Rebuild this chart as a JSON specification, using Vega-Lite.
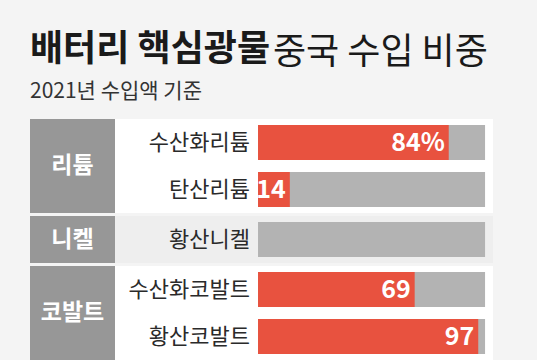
{
  "$schema": "https://vega.github.io/schema/vega-lite/v6.json",
  "background": "#f4f4f4",
  "padding": {"left": 30, "top": 32, "right": 44, "bottom": 0},
  "title": {
    "text": "중국 수입 비중",
    "anchor": "start",
    "dx": 243,
    "dy": 40,
    "offset": 0,
    "font": "Noto Sans CJK KR",
    "fontSize": 36,
    "fontWeight": "normal",
    "color": "#1a1a1a"
  },
  "data": {
    "values": [
      {"group": "리튬", "item": "수산화리튬", "value": 84, "label": "84%"},
      {"group": "리튬", "item": "탄산리튬", "value": 14, "label": "14"},
      {"group": "니켈", "item": "황산니켈", "value": null, "label": ""},
      {"group": "코발트", "item": "수산화코발트", "value": 69, "label": "69"},
      {"group": "코발트", "item": "황산코발트", "value": 97, "label": "97"}
    ]
  },
  "config": {
    "view": {"stroke": null},
    "concat": {"spacing": 0},
    "text": {"font": "Noto Sans CJK KR"}
  },
  "vconcat": [
    {
      "title": {
        "text": "배터리 핵심광물",
        "subtitle": "2021년 수입액 기준",
        "anchor": "start",
        "font": "Noto Sans CJK KR",
        "fontSize": 36,
        "fontWeight": "bold",
        "color": "#1a1a1a",
        "subtitleFont": "Noto Sans CJK KR",
        "subtitleFontSize": 21,
        "subtitleColor": "#333333",
        "subtitlePadding": 12,
        "offset": 16
      },
      "spacing": 3,
      "vconcat": [
        {
          "transform": [{"filter": "datum.group === '리튬'"}],
          "spacing": 0,
          "hconcat": [
            {
              "width": 85, "height": 94,
              "view": {"fill": "#979797", "stroke": null},
              "transform": [{"aggregate": [{"op": "count", "as": "n"}], "groupby": ["group"]}],
              "mark": {"type": "text", "fontSize": 23, "fontWeight": "bold", "color": "white"},
              "encoding": {"text": {"field": "group"}}
            },
            {
              "width": 378, "height": {"step": 47},
              "view": {"fill": "white", "stroke": null},
              "encoding": {"y": {"field": "item", "type": "nominal", "sort": null, "axis": null, "scale": {"paddingInner": 0.26, "paddingOuter": 0.13}}},
              "layer": [
                {"mark": {"type": "bar", "color": "#b3b3b3"},
                 "encoding": {"x": {"datum": 0, "type": "quantitative", "scale": {"domain": [-63, 103.5], "nice": false, "zero": false}, "axis": null}, "x2": {"datum": 100}}},
                {"transform": [{"filter": "isValid(datum.value)"}],
                 "mark": {"type": "bar", "color": "#e8523f"},
                 "encoding": {"x": {"field": "value", "type": "quantitative"}, "x2": {"datum": 0}}},
                {"mark": {"type": "text", "align": "right", "dx": -8, "fontSize": 22, "color": "#2a2a2a"},
                 "encoding": {"x": {"datum": 0, "type": "quantitative"}, "text": {"field": "item"}}},
                {"transform": [{"filter": "isValid(datum.value)"}],
                 "mark": {"type": "text", "align": "right", "dx": -4, "fontSize": 25, "fontWeight": "bold", "color": "white"},
                 "encoding": {"x": {"field": "value", "type": "quantitative"}, "text": {"field": "label"}}}
              ]
            }
          ]
        },
        {
          "transform": [{"filter": "datum.group === '니켈'"}],
          "spacing": 0,
          "hconcat": [
            {
              "width": 85, "height": 47,
              "view": {"fill": "#979797", "stroke": null},
              "transform": [{"aggregate": [{"op": "count", "as": "n"}], "groupby": ["group"]}],
              "mark": {"type": "text", "fontSize": 23, "fontWeight": "bold", "color": "white"},
              "encoding": {"text": {"field": "group"}}
            },
            {
              "width": 378, "height": {"step": 47},
              "view": {"fill": "#eeeeee", "stroke": null},
              "encoding": {"y": {"field": "item", "type": "nominal", "sort": null, "axis": null, "scale": {"paddingInner": 0.26, "paddingOuter": 0.13}}},
              "layer": [
                {"mark": {"type": "bar", "color": "#b3b3b3"},
                 "encoding": {"x": {"datum": 0, "type": "quantitative", "scale": {"domain": [-63, 103.5], "nice": false, "zero": false}, "axis": null}, "x2": {"datum": 100}}},
                {"mark": {"type": "text", "align": "right", "dx": -8, "fontSize": 22, "color": "#2a2a2a"},
                 "encoding": {"x": {"datum": 0, "type": "quantitative"}, "text": {"field": "item"}}}
              ]
            }
          ]
        },
        {
          "transform": [{"filter": "datum.group === '코발트'"}],
          "spacing": 0,
          "hconcat": [
            {
              "width": 85, "height": 94,
              "view": {"fill": "#979797", "stroke": null},
              "transform": [{"aggregate": [{"op": "count", "as": "n"}], "groupby": ["group"]}],
              "mark": {"type": "text", "fontSize": 23, "fontWeight": "bold", "color": "white"},
              "encoding": {"text": {"field": "group"}}
            },
            {
              "width": 378, "height": {"step": 47},
              "view": {"fill": "white", "stroke": null},
              "encoding": {"y": {"field": "item", "type": "nominal", "sort": null, "axis": null, "scale": {"paddingInner": 0.26, "paddingOuter": 0.13}}},
              "layer": [
                {"mark": {"type": "bar", "color": "#b3b3b3"},
                 "encoding": {"x": {"datum": 0, "type": "quantitative", "scale": {"domain": [-63, 103.5], "nice": false, "zero": false}, "axis": null}, "x2": {"datum": 100}}},
                {"transform": [{"filter": "isValid(datum.value)"}],
                 "mark": {"type": "bar", "color": "#e8523f"},
                 "encoding": {"x": {"field": "value", "type": "quantitative"}, "x2": {"datum": 0}}},
                {"mark": {"type": "text", "align": "right", "dx": -8, "fontSize": 22, "color": "#2a2a2a"},
                 "encoding": {"x": {"datum": 0, "type": "quantitative"}, "text": {"field": "item"}}},
                {"transform": [{"filter": "isValid(datum.value)"}],
                 "mark": {"type": "text", "align": "right", "dx": -4, "fontSize": 25, "fontWeight": "bold", "color": "white"},
                 "encoding": {"x": {"field": "value", "type": "quantitative"}, "text": {"field": "label"}}}
              ]
            }
          ]
        }
      ]
    }
  ]
}
